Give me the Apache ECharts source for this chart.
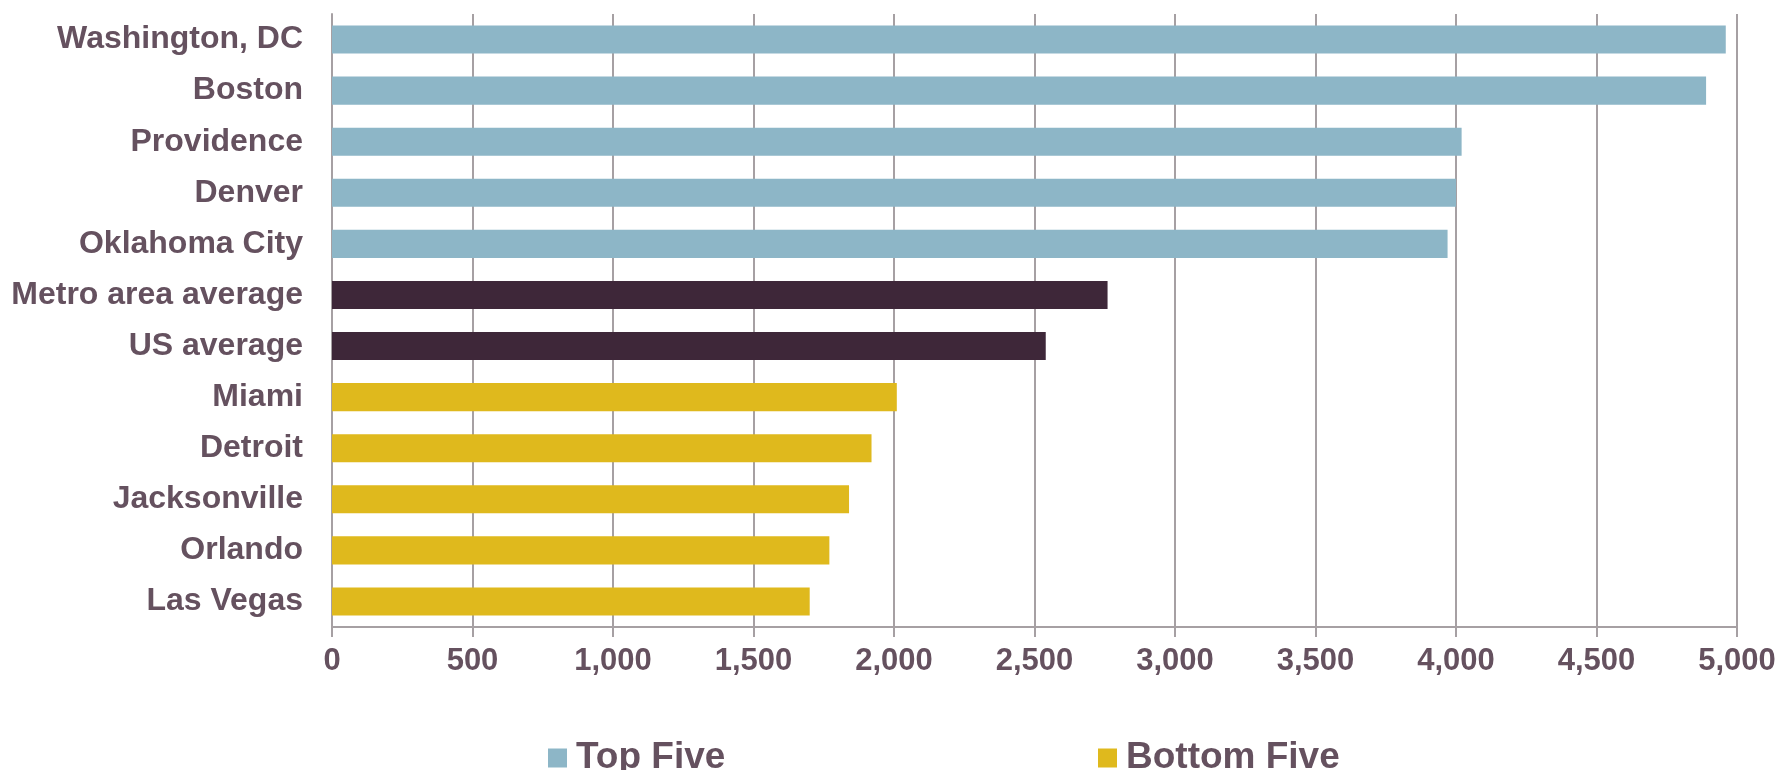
<!DOCTYPE html>
<html>
<head>
<meta charset="utf-8">
<script src="https://cdn.jsdelivr.net/npm/echarts@6/dist/echarts.min.js"></script>
<style>
  html, body { margin: 0; padding: 0; background: #ffffff; }
  #chart { width: 1781px; height: 770px; }
</style>
</head>
<body>
<div id="chart"></div>
<script>
// Metro areas, top to bottom
const cities = [
  'Washington, DC', 'Boston', 'Providence', 'Denver', 'Oklahoma City',
  'Metro area average', 'US average',
  'Miami', 'Detroit', 'Jacksonville', 'Orlando', 'Las Vegas'
];
// Values per group, in the same order as the cities above
const topFive = [4960, 4890, 4020, 4000, 3970];
const averages = [2760, 2540];
const bottomFive = [2010, 1920, 1840, 1770, 1700];

const axisTicks = { min: 0, max: 5000, interval: 500 };

const TEXT = '#65515F';
const GRID = '#A6A0A3';
const FONT = '"Liberation Sans", Arial, Helvetica, sans-serif';

// Place each group's values on its own rows, leaving the rest empty
const nTop = topFive.length, nAvg = averages.length;
const topData = cities.map((c, i) => i < nTop ? topFive[i] : null);
const avgData = cities.map((c, i) => (i >= nTop && i < nTop + nAvg) ? averages[i - nTop] : null);
const botData = cities.map((c, i) => i >= nTop + nAvg ? bottomFive[i - nTop - nAvg] : null);

const legendText = {
  color: TEXT, fontSize: 37, fontWeight: 'bold', fontFamily: FONT,
  lineHeight: 40, padding: [0, 0, 0, 4]
};

const chart = echarts.init(document.getElementById('chart'), null, { renderer: 'canvas' });
chart.setOption({
  animation: false,
  backgroundColor: '#ffffff',
  grid: { left: 332, right: 44, top: 14, bottom: 143, containLabel: false },
  legend: [
    {
      data: ['Top Five'], left: 543, top: 733,
      itemWidth: 19, itemHeight: 19, itemGap: 0,
      icon: 'rect', textStyle: legendText, selectedMode: false
    },
    {
      data: ['Bottom Five'], left: 1093, top: 733,
      itemWidth: 19, itemHeight: 19, itemGap: 0,
      icon: 'rect', textStyle: legendText, selectedMode: false
    }
  ],
  xAxis: {
    type: 'value',
    min: axisTicks.min, max: axisTicks.max, interval: axisTicks.interval,
    axisLine: { show: true, lineStyle: { color: GRID, width: 2 } },
    axisTick: { show: true, length: 10, lineStyle: { color: GRID, width: 2 } },
    splitLine: { show: true, lineStyle: { color: GRID, width: 2 } },
    axisLabel: {
      color: TEXT, fontSize: 31, fontWeight: 'bold', fontFamily: FONT, margin: 19,
      formatter: v => v.toLocaleString('en-US')
    }
  },
  yAxis: {
    type: 'category',
    data: cities,
    inverse: true,
    axisLine: { show: true, lineStyle: { color: GRID, width: 2 } },
    axisTick: { show: false },
    axisLabel: { color: TEXT, fontSize: 32, fontWeight: 'bold', fontFamily: FONT, margin: 29 }
  },
  series: [
    {
      name: 'Top Five', type: 'bar', stack: 'all', data: topData,
      barWidth: '55%', itemStyle: { color: '#8DB6C7' }
    },
    {
      name: 'Average', type: 'bar', stack: 'all', data: avgData,
      barWidth: '55%', itemStyle: { color: '#3E2739' }
    },
    {
      name: 'Bottom Five', type: 'bar', stack: 'all', data: botData,
      barWidth: '55%', itemStyle: { color: '#DFB91D' }
    }
  ]
});
</script>
</body>
</html>
